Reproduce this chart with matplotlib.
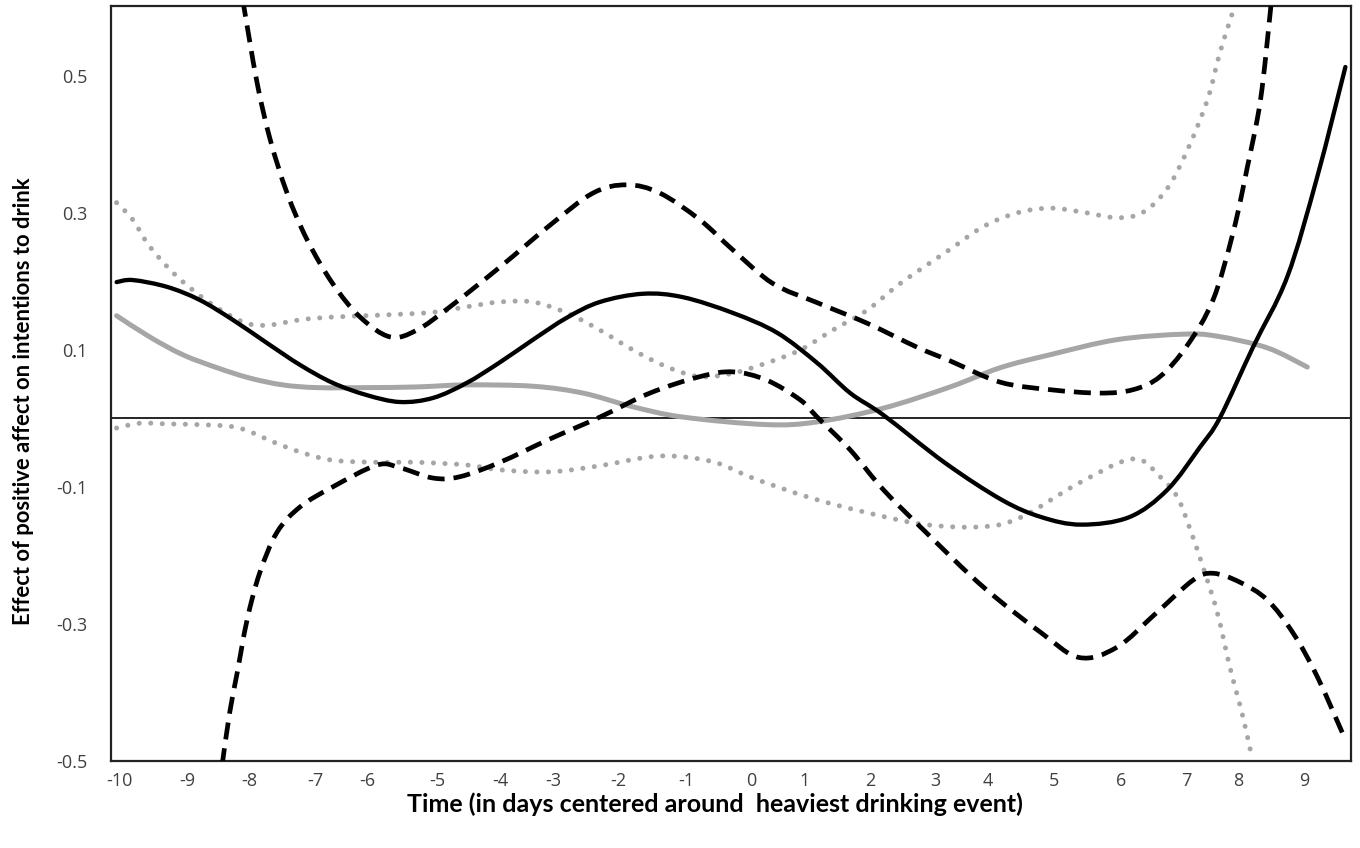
import matplotlib.pyplot as plt
from matplotlib.path import Path
from matplotlib.patches import PathPatch

# x positions of the day labels along the axis (uneven in the original)
tick_labels = ['-10', '-9', '-8', '-7', '-6', '-5', '-4', '-3', '-2', '-1',
               '0', '1', '2', '3', '4', '5', '6', '7', '8', '9']
tick_pos = [-9.98, -8.88, -7.89, -6.83, -6.00, -4.89, -3.87, -3.03, -1.99, -0.89,
            0.14, 0.99, 2.05, 3.09, 3.94, 4.99, 6.07, 7.11, 7.94, 9.00]
y_ticks = [0.5, 0.3, 0.1, -0.1, -0.3, -0.5]

# black solid: effect estimate
est_x = [-10.02, -9.76, -9.21, -8.69, -8.16, -7.61, -7.08, -6.56, -6.01, -5.48,
         -4.95, -4.41, -3.88, -3.35, -2.81, -2.28, -1.59, -0.95, -0.15, 0.56,
         1.20, 1.73, 2.26, 3.25, 4.16, 4.79, 5.43, 6.20, 6.81, 7.33,
         7.65, 8.18, 8.73, 9.21, 9.66]
est_y = [0.199, 0.202, 0.192, 0.173, 0.144, 0.110, 0.078, 0.052, 0.034, 0.024,
         0.030, 0.052, 0.082, 0.115, 0.147, 0.170, 0.182, 0.177, 0.154, 0.125,
         0.081, 0.037, 0.005, -0.065, -0.119, -0.144, -0.155, -0.144, -0.104, -0.042,
         0.001, 0.104, 0.207, 0.353, 0.513]

# black dashed: upper and lower bounds
hi_x = [-8.00, -7.77, -7.56, -7.29, -6.97, -6.56, -6.12, -5.64, -5.21, -4.68,
        -3.88, -3.08, -2.39, -1.85, -1.32, -0.68, -0.15, 0.49, 1.20, 2.00,
        2.80, 3.33, 4.13, 4.93, 5.73, 6.26, 6.69, 7.13, 7.54, 7.86,
        8.09, 8.30, 8.46, 8.49]
hi_y = [0.611, 0.490, 0.407, 0.329, 0.261, 0.197, 0.148, 0.119, 0.129, 0.163,
        0.221, 0.282, 0.329, 0.341, 0.329, 0.290, 0.246, 0.197, 0.169, 0.139,
        0.104, 0.084, 0.053, 0.042, 0.037, 0.042, 0.061, 0.107, 0.173, 0.271,
        0.367, 0.465, 0.596, 0.626]
lo_x = [-8.33, -8.21, -8.09, -7.93, -7.73, -7.45, -7.08, -6.56, -5.85, -5.48,
        -4.95, -4.52, -3.88, -3.08, -2.28, -1.48, -0.68, -0.15, 0.39, 0.93,
        1.20, 1.73, 2.26, 2.94, 3.86, 4.79, 5.40, 6.00, 6.63, 7.22,
        7.54, 7.97, 8.41, 8.82, 9.21, 9.66]
lo_y = [-0.506, -0.430, -0.372, -0.294, -0.226, -0.166, -0.129, -0.100, -0.068, -0.072,
        -0.087, -0.085, -0.064, -0.030, 0.002, 0.037, 0.061, 0.068, 0.056, 0.027,
        0.002, -0.046, -0.104, -0.166, -0.246, -0.313, -0.349, -0.334, -0.284, -0.236,
        -0.226, -0.239, -0.265, -0.313, -0.377, -0.469]

# grey solid: second estimate
est2_x = [-10.02, -9.49, -8.96, -8.41, -7.89, -7.36, -6.81, -6.01, -5.21, -4.41,
          -3.35, -2.55, -1.75, -0.95, 0.39, 1.20, 2.26, 3.33, 4.13, 4.93,
          6.00, 7.06, 7.61, 8.41, 9.05]
est2_y = [0.150, 0.119, 0.093, 0.074, 0.059, 0.049, 0.045, 0.045, 0.046, 0.049,
          0.047, 0.037, 0.017, 0.002, -0.009, -0.005, 0.015, 0.046, 0.074, 0.093,
          0.115, 0.123, 0.120, 0.103, 0.075]

# grey dotted: upper and lower bounds
hi2_x = [-10.02, -9.76, -9.49, -9.05, -8.53, -8.00, -7.61, -7.08, -6.56, -5.75,
         -4.95, -4.41, -3.88, -3.35, -2.81, -2.28, -1.75, -1.20, -0.68, -0.15,
         0.39, 0.93, 1.45, 2.00, 2.53, 3.33, 3.86, 4.40, 4.93, 5.46,
         6.00, 6.42, 6.81, 7.13, 7.45, 7.65, 7.85, 7.89]
hi2_y = [0.315, 0.290, 0.251, 0.207, 0.169, 0.141, 0.136, 0.144, 0.148, 0.151,
         0.155, 0.163, 0.170, 0.170, 0.154, 0.129, 0.100, 0.075, 0.061, 0.066,
         0.081, 0.100, 0.129, 0.158, 0.197, 0.247, 0.280, 0.300, 0.307, 0.301,
         0.293, 0.301, 0.336, 0.392, 0.465, 0.534, 0.592, 0.611]
lo2_x = [-10.02, -9.65, -9.21, -8.69, -8.16, -7.84, -7.52, -7.08, -6.56, -5.85,
         -5.21, -4.41, -3.88, -3.08, -2.28, -1.48, -0.95, -0.40, 0.17, 1.10,
         2.02, 2.94, 3.86, 4.47, 5.40, 6.26, 6.69, 6.97, 7.17, 7.38,
         7.61, 7.81, 8.02, 8.17]
lo2_y = [-0.014, -0.007, -0.008, -0.009, -0.012, -0.021, -0.034, -0.049, -0.061, -0.064,
         -0.064, -0.068, -0.075, -0.078, -0.069, -0.056, -0.056, -0.065, -0.087, -0.116,
         -0.138, -0.155, -0.158, -0.144, -0.094, -0.059, -0.085, -0.115, -0.161, -0.217,
         -0.284, -0.363, -0.436, -0.498]

grey = '#a6a6a6'


def smooth_curve(ax, xs, ys, **kw):
    # Excel-style smoothed line: Catmull-Rom segments drawn as cubic Beziers
    pts = list(zip(xs, ys))
    n = len(pts)
    verts = [pts[0]]
    codes = [Path.MOVETO]
    for i in range(n - 1):
        p0 = pts[i - 1] if i > 0 else pts[i]
        p1, p2 = pts[i], pts[i + 1]
        p3 = pts[i + 2] if i + 2 < n else pts[i + 1]
        c1 = (p1[0] + (p2[0] - p0[0]) / 6, p1[1] + (p2[1] - p0[1]) / 6)
        c2 = (p2[0] - (p3[0] - p1[0]) / 6, p2[1] - (p3[1] - p1[1]) / 6)
        verts += [c1, c2, p2]
        codes += [Path.CURVE4] * 3
    patch = PathPatch(Path(verts, codes), fill=False, **kw)
    ax.add_patch(patch)
    return patch


fig = plt.figure(figsize=(13.6, 8.48), dpi=100)
ax = fig.add_axes([0.0816, 0.1026, 0.9118, 0.8903])

ax.axhline(0, color='black', linewidth=1.2, zorder=1)

dotted = (0, (0.01, 2.3))
dashed = (0, (3.6, 1.9))
smooth_curve(ax, hi2_x, hi2_y, edgecolor=grey, linewidth=3.6, linestyle=dotted,
             capstyle='round', zorder=2)
smooth_curve(ax, lo2_x, lo2_y, edgecolor=grey, linewidth=3.6, linestyle=dotted,
             capstyle='round', zorder=2)
smooth_curve(ax, est2_x, est2_y, edgecolor=grey, linewidth=3.6, capstyle='round', zorder=3)
smooth_curve(ax, hi_x, hi_y, edgecolor='black', linewidth=3.4, linestyle=dashed,
             capstyle='butt', zorder=4)
smooth_curve(ax, lo_x, lo_y, edgecolor='black', linewidth=3.4, linestyle=dashed,
             capstyle='butt', zorder=4)
smooth_curve(ax, est_x, est_y, edgecolor='black', linewidth=3.1, capstyle='round', zorder=5)

ax.set_xlim(-10.11, 9.75)
ax.set_ylim(-0.5, 0.602)

ax.set_xticks(tick_pos)
ax.set_xticklabels(tick_labels, fontsize=13, family='Open Sans', color='#404040')
ax.set_yticks(y_ticks)
ax.set_yticklabels([f'{v:.1f}' for v in y_ticks], fontsize=13, family='Open Sans',
                   color='#404040')
ax.tick_params(length=0)
ax.tick_params(axis='x', pad=8)
ax.tick_params(axis='y', pad=17)

for s in ax.spines.values():
    s.set_linewidth(1.6)
    s.set_color('#222222')

ax.set_xlabel('Time (in days centered around  heaviest drinking event)',
              fontsize=18, fontweight='bold', family='Lato')
ax.set_ylabel('Effect of positive affect on intentions to drink',
              fontsize=15.8, fontweight='bold', family='Lato')
ax.xaxis.set_label_coords(0.487, -0.042)
ax.yaxis.set_label_coords(-0.062, 0.477)

fig.savefig('out.png', dpi=100)
